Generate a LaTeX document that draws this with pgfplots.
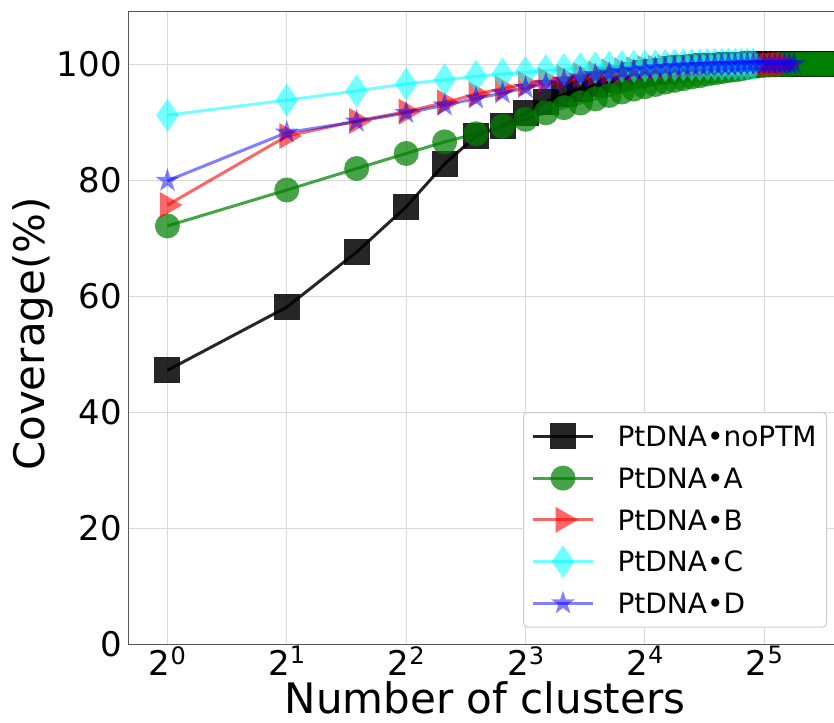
\documentclass[border=0pt]{standalone}
\usepackage{fontspec}
\setmainfont{DejaVu Sans}
\usepackage{pgfplots}
\pgfplotsset{compat=1.18}
\definecolor{mgreen}{RGB}{0,128,0}
\definecolor{mred}{RGB}{255,0,0}
\definecolor{mcyan}{RGB}{0,255,255}
\definecolor{mblue}{RGB}{0,0,255}
\newcommand{\pw}[1]{2\raisebox{11.5pt}{\fontsize{24}{24}\selectfont #1}}
\pgfdeclareplotmark{fstar}{%
  \pgfpathmoveto{\pgfpointpolar{90}{\pgfplotmarksize}}%
  \pgfpathlineto{\pgfpointpolar{126}{0.382\pgfplotmarksize}}%
  \pgfpathlineto{\pgfpointpolar{162}{\pgfplotmarksize}}%
  \pgfpathlineto{\pgfpointpolar{198}{0.382\pgfplotmarksize}}%
  \pgfpathlineto{\pgfpointpolar{234}{\pgfplotmarksize}}%
  \pgfpathlineto{\pgfpointpolar{270}{0.382\pgfplotmarksize}}%
  \pgfpathlineto{\pgfpointpolar{306}{\pgfplotmarksize}}%
  \pgfpathlineto{\pgfpointpolar{342}{0.382\pgfplotmarksize}}%
  \pgfpathlineto{\pgfpointpolar{18}{\pgfplotmarksize}}%
  \pgfpathlineto{\pgfpointpolar{54}{0.382\pgfplotmarksize}}%
  \pgfpathclose\pgfusepathqfill}
\begin{document}
\begin{tikzpicture}
\useasboundingbox (-129pt,-78pt) rectangle (705pt,644pt);
\begin{axis}[
  at={(0pt,0pt)}, anchor=south west, scale only axis,
  width=708pt, height=632pt,
  xmode=log, log basis x=2,
  xmin=0.8, xmax=48.8, ymin=0, ymax=109,
  xtick={1,2,4,8,16,32},
  xticklabels={\pw{0},\pw{1},\pw{2},\pw{3},\pw{4},\pw{5}},
  ytick={0,20,40,60,80,100},
  minor x tick num=0,
  major tick length=0pt,
  grid=major,
  grid style={black!15, line width=0.9pt},
  axis line style={black!30, line width=1pt},
  y axis line style={black!65},
  tick label style={font=\fontsize{34}{34}\selectfont},
  /pgf/number format/assume math mode=true,
  xticklabel style={inner sep=0pt, anchor=north, yshift=-2pt},
  yticklabel style={inner sep=0pt, anchor=east, xshift=-7pt},
  xlabel={Number of clusters},
  ylabel={Coverage(\%)},
  every axis x label/.style={at={(axis description cs:0.503,0)}, anchor=base, yshift=-69pt, inner sep=0pt, text depth=0pt, font=\fontsize{42}{42}\selectfont},
  every axis y label/.style={at={(axis description cs:-0.119,0.4905)}, rotate=90, anchor=base, inner sep=1pt, font=\fontsize{42}{42}\selectfont},
  legend cell align=left,
  legend image code/.code={\draw[mark repeat=2,mark phase=2,#1] plot coordinates {(0pt,0pt) (30pt,0pt) (60pt,0pt)};},
  legend style={at={(axis description cs:0.986,0.367)}, anchor=north east,
    draw=black!20, line width=1pt, rounded corners=4pt, fill=white,
    font=\fontsize{28}{28}\selectfont,
    inner xsep=8pt, inner ysep=3pt,
    nodes={inner ysep=10.6pt, inner xsep=2pt, text height=20.5pt, text depth=0pt},
    /tikz/every odd column/.append style={column sep=21pt}},
  every axis plot/.append style={line width=3pt, line join=round},
]
\addplot[color=black, opacity=0.85, mark=square*, mark size=13pt, mark options={draw opacity=0}] coordinates {
(1,47.2)(2,58.1)(3,67.6)(4,75.4)(5,82.8)(6,87.6)(7,89.4)(8,91.5)(9,93.5)(10,94.8)
(11,95.8)(12,96.6)(13,97.2)(14,97.7)(15,98.1)(16,98.4)(17,98.7)(18,98.9)(19,99.1)(20,99.3)
(21,99.4)(22,99.5)(23,99.6)(24,99.7)(25,99.75)(26,99.8)(27,99.85)(28,99.9)(29,99.9)(30,99.95)
(31,99.95)(32,100)(33,100)(34,100)(35,100)(36,100)(37,100)(38,100)(39,100)(40,100)
(41,100)(42,100)(43,100)(44,100)(45,100)(46,100)(47,100)(48,100)(49,100)(50,100)};
\addlegendentry{PtDNA•noPTM}
\addplot[color=mgreen, opacity=0.72, mark=*, mark size=12.5pt, mark options={draw opacity=0}] coordinates {
(1,72.1)(2,78.3)(3,82.0)(4,84.6)(5,86.6)(6,88.0)(7,89.3)(8,90.5)(9,91.6)(10,92.5)
(11,93.3)(12,94.0)(13,94.6)(14,95.2)(15,95.7)(16,96.1)(17,96.5)(18,96.9)(19,97.2)(20,97.5)
(21,97.8)(22,98.0)(23,98.3)(24,98.5)(25,98.7)(26,98.9)(27,99.0)(28,99.2)(29,99.4)(30,99.6)
(31,99.7)(32,99.8)(33,99.85)(34,99.9)(35,99.95)(36,99.95)(37,99.95)(38,100)(39,100)(40,100)
(41,100)(42,100)(43,100)(44,100)(45,100)(46,100)(47,100)(48,100)(49,100)(50,100)};
\addlegendentry{PtDNA•A}
\addplot[color=mred, opacity=0.6, mark=triangle*, mark size=15pt, mark options={draw opacity=0, rotate=-90}] coordinates {
(1,75.7)(2,87.6)(3,90.2)(4,91.8)(5,93.4)(6,94.8)(7,95.8)(8,96.6)(9,97.2)(10,97.7)
(11,98.1)(12,98.4)(13,98.7)(14,98.9)(15,99.1)(16,99.3)(17,99.4)(18,99.5)(19,99.6)(20,99.65)
(21,99.7)(22,99.75)(23,99.8)(24,99.85)(25,99.9)(26,99.9)(27,99.95)(28,99.95)(29,100)(30,100)
(31,100)(32,100)(33,100)(34,100)(35,100)(36,100)};
\addlegendentry{PtDNA•B}
\addplot[color=mcyan, opacity=0.55, mark=diamond*, mark size=16.5pt, mark options={draw opacity=0, xscale=0.9}] coordinates {
(1,91.2)(2,93.8)(3,95.4)(4,96.6)(5,97.3)(6,97.9)(7,98.3)(8,98.6)(9,98.9)(10,99.1)
(11,99.25)(12,99.4)(13,99.5)(14,99.6)(15,99.65)(16,99.7)(17,99.75)(18,99.8)(19,99.85)(20,99.9)
(21,99.9)(22,99.9)(23,99.95)(24,99.95)(25,99.95)(26,100)(27,100)(28,100)(29,100)(30,100)};
\addlegendentry{PtDNA•C}
\addplot[color=mblue, opacity=0.5, mark=fstar, mark size=12.5pt, mark options={fill=mblue}] coordinates {
(1,79.9)(2,88.2)(3,90.1)(4,91.6)(5,92.9)(6,94.1)(7,95.0)(8,95.9)(9,96.6)(10,97.2)
(11,97.7)(12,98.1)(13,98.4)(14,98.7)(15,98.9)(16,99.1)(17,99.3)(18,99.4)(19,99.5)(20,99.6)
(21,99.65)(22,99.7)(23,99.75)(24,99.8)(25,99.85)(26,99.9)(27,99.9)(28,99.95)(29,100)(30,100)
(31,100)(32,100)(33,100)(34,100)(35,100)(36,100)(37,100)(38,100)};
\addlegendentry{PtDNA•D}
\end{axis}
\end{tikzpicture}
\end{document}
